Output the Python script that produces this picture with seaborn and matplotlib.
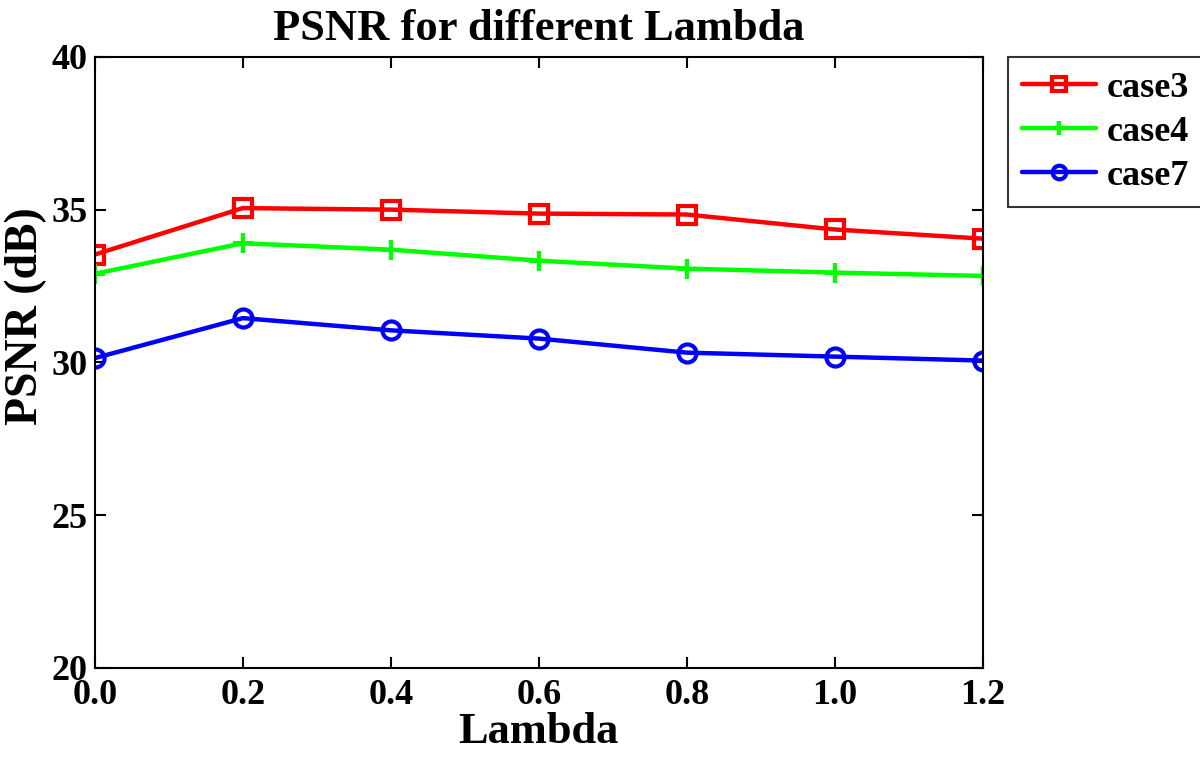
import matplotlib
matplotlib.use("Agg")
import matplotlib.pyplot as plt
import seaborn as sns
import pandas as pd

lambdas = [0.0, 0.2, 0.4, 0.6, 0.8, 1.0, 1.2]
case3 = [33.53, 35.05, 35.00, 34.87, 34.84, 34.35, 34.05]
case4 = [32.90, 33.90, 33.69, 33.33, 33.07, 32.94, 32.83]
case7 = [30.14, 31.45, 31.05, 30.78, 30.32, 30.19, 30.06]
series_names = ["case3", "case4", "case7"]
xticks = [0.0, 0.2, 0.4, 0.6, 0.8, 1.0, 1.2]
yticks = [20, 25, 30, 35, 40]

sns.set_theme(style="ticks")
plt.rcParams['font.family'] = ['Liberation Serif', 'DejaVu Serif']
plt.rcParams['font.weight'] = 'bold'
plt.rcParams['text.color'] = 'black'
plt.rcParams['axes.labelcolor'] = 'black'
plt.rcParams['xtick.color'] = 'black'
plt.rcParams['ytick.color'] = 'black'

df = pd.DataFrame({
    "Lambda": lambdas * 3,
    "PSNR": case3 + case4 + case7,
    "case": [n for n in series_names for _ in lambdas],
})

fig = plt.figure(figsize=(12, 7.57), dpi=100)
ax = fig.add_axes([0.079, 0.1176, 0.740, 0.8073])

colors = {"case3": "#ff0000", "case4": "#00ff00", "case7": "#0000ff"}
markers = {"case3": "s", "case4": "+", "case7": "o"}

for name in series_names:
    sub = df[df["case"] == name]
    sns.lineplot(data=sub, x="Lambda", y="PSNR", ax=ax, color=colors[name],
                 marker=markers[name], markersize=13 if name != "case4" else 14,
                 markerfacecolor="none", markeredgecolor=colors[name],
                 markeredgewidth=3, linewidth=3.2, label=name)

ax.set_xlim(0.0, 1.2)
ax.set_ylim(20, 40)
ax.set_xticks(xticks)
ax.set_xticklabels([f"{t:.1f}" for t in xticks])
ax.set_yticks(yticks)
ax.tick_params(direction="in", top=True, right=True, length=8, width=1.5,
               labelsize=26, pad=5, colors="black")
ax.tick_params(axis="x", pad=8)
for lab in ax.get_xticklabels() + ax.get_yticklabels():
    lab.set_fontweight("bold")
for s in ax.spines.values():
    s.set_linewidth(1.5)
    s.set_color("black")

ax.set_xlabel("Lambda", fontsize=32, fontweight="bold", labelpad=0)
ax.set_ylabel("PSNR (dB)", fontsize=33, fontweight="bold")
ax.yaxis.set_label_coords(-0.054, 0.575)
ax.set_title("PSNR for different Lambda", fontsize=32, fontweight="bold", pad=12)

leg = ax.legend(loc="upper left", bbox_to_anchor=(1.028, 1.0), frameon=True,
                fancybox=False, edgecolor="black", borderaxespad=0,
                prop={"weight": "bold", "size": 26}, handlelength=2.05,
                handletextpad=0.3, borderpad=0.4, labelspacing=0.3,
                markerscale=0.75)
leg.get_frame().set_linewidth(1.5)
for t in leg.get_texts():
    t.set_color("black")

fig.savefig("out.png", dpi=100)
